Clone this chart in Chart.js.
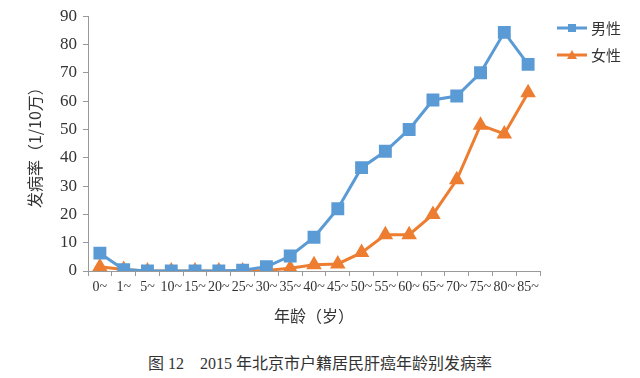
<!DOCTYPE html>
<html>
<head>
<meta charset="utf-8">
<script src="https://cdn.jsdelivr.net/npm/chart.js@4"></script>
<style>
  body { margin: 0; background: #fff; }
  #wrap { position: relative; width: 640px; height: 378px; }
  #caption {
    position: absolute; left: 0; top: 350px; width: 640px; text-align: center;
    font-family: "Liberation Serif", "Noto Sans CJK SC"; font-size: 16px; color: #333;
  }
</style>
</head>
<body>
<div id="wrap">
  <canvas id="c" width="640" height="326"></canvas>
  <div id="caption">图 12　2015 年北京市户籍居民肝癌年龄别发病率</div>
</div>
<script>
// 年龄组与发病率（1/10万）
const ageGroups = ["0~", "1~", "5~", "10~", "15~", "20~", "25~", "30~", "35~", "40~",
  "45~", "50~", "55~", "60~", "65~", "70~", "75~", "80~", "85~"];
const maleRates = [6.3, 0.5, 0, 0, 0, 0, 0.3, 1.5, 5.3, 11.9, 22, 36.5, 42.3, 50, 60.4, 61.8, 70, 84.3, 73];
const femaleRates = [1.5, 0.5, 0, 0, 0, 0, 0, 0.2, 1, 2.2, 2.5, 6.5, 12.8, 12.8, 20, 32.2, 51.5, 48.4, 63];
const yTicks = [0, 10, 20, 30, 40, 50, 60, 70, 80, 90];

const BLUE = "#5B9BD5";
const ORANGE = "#ED7D31";
const FONT = "'Liberation Serif', 'Noto Sans CJK SC'";

// petite légende : ligne + marqueur, comme dans Excel
const legendPlugin = {
  id: "lineLegend",
  afterDraw(chart) {
    const ctx = chart.ctx;
    chart.data.datasets.forEach((ds, i) => {
      const y = 28 + i * 27;
      const x0 = 557, x1 = 587;
      ctx.save();
      ctx.strokeStyle = ds.borderColor;
      ctx.lineWidth = 3;
      ctx.beginPath();
      ctx.moveTo(x0, y);
      ctx.lineTo(x1, y);
      ctx.stroke();
      ctx.fillStyle = ds.borderColor;
      if (ds.pointStyle === "rect") {
        ctx.fillRect(x0 + 11, y - 4, 8, 8);
      } else {
        ctx.beginPath();
        ctx.moveTo(x0 + 15, y - 5);
        ctx.lineTo(x0 + 20, y + 4);
        ctx.lineTo(x0 + 10, y + 4);
        ctx.closePath();
        ctx.fill();
      }
      ctx.fillStyle = "#333";
      ctx.font = "15px 'Noto Sans CJK SC'";
      ctx.textBaseline = "middle";
      ctx.fillText(ds.label, x1 + 4, y);
      ctx.restore();
    });
  }
};

const ctx = document.getElementById("c").getContext("2d");
new Chart(ctx, {
  type: "line",
  data: {
    labels: ageGroups,
    datasets: [
      {
        label: "男性",
        data: maleRates,
        borderColor: BLUE,
        backgroundColor: BLUE,
        borderWidth: 3,
        pointStyle: "rect",
        pointRadius: 7,
        pointHoverRadius: 7,
        tension: 0,
      },
      {
        label: "女性",
        data: femaleRates,
        borderColor: ORANGE,
        backgroundColor: ORANGE,
        borderWidth: 3,
        pointStyle: "triangle",
        pointRadius: 6,
        pointHoverRadius: 6,
        tension: 0,
      },
    ],
  },
  options: {
    responsive: false,
    animation: false,
    layout: { padding: { top: 7, right: 100, left: 0, bottom: 0 } },
    plugins: {
      legend: { display: false },
      tooltip: { enabled: false },
    },
    scales: {
      x: {
        offset: true,
        grid: {
          offset: true,
          drawOnChartArea: false,
          drawTicks: true,
          tickLength: 5,
          color: "#999",
        },
        border: { color: "#999", width: 1 },
        ticks: {
          color: "#333",
          font: { family: FONT, size: 14 },
          maxRotation: 0,
          autoSkip: false,
          padding: 3,
        },
        title: {
          display: true,
          text: "年龄（岁）",
          color: "#333",
          font: { family: "'Noto Sans CJK SC'", size: 16 },
          padding: { top: 8, bottom: 0 },
        },
        afterFit(scale) { scale.height = 55; },
      },
      y: {
        min: 0,
        max: 90,
        afterBuildTicks(scale) { scale.ticks = yTicks.map((v) => ({ value: v })); },
        grid: {
          drawOnChartArea: false,
          drawTicks: true,
          tickLength: 5,
          color: "#999",
        },
        border: { color: "#999", width: 1 },
        ticks: {
          color: "#333",
          font: { family: FONT, size: 17 },
          padding: 6,
        },
        title: {
          display: true,
          text: "发病率（1/10万）",
          color: "#333",
          font: { family: "'Noto Sans CJK SC'", size: 16 },
          padding: { top: 25, bottom: 0 },
        },
        afterFit(scale) { scale.width = 88; },
      },
    },
  },
  plugins: [legendPlugin],
});
</script>
</body>
</html>
